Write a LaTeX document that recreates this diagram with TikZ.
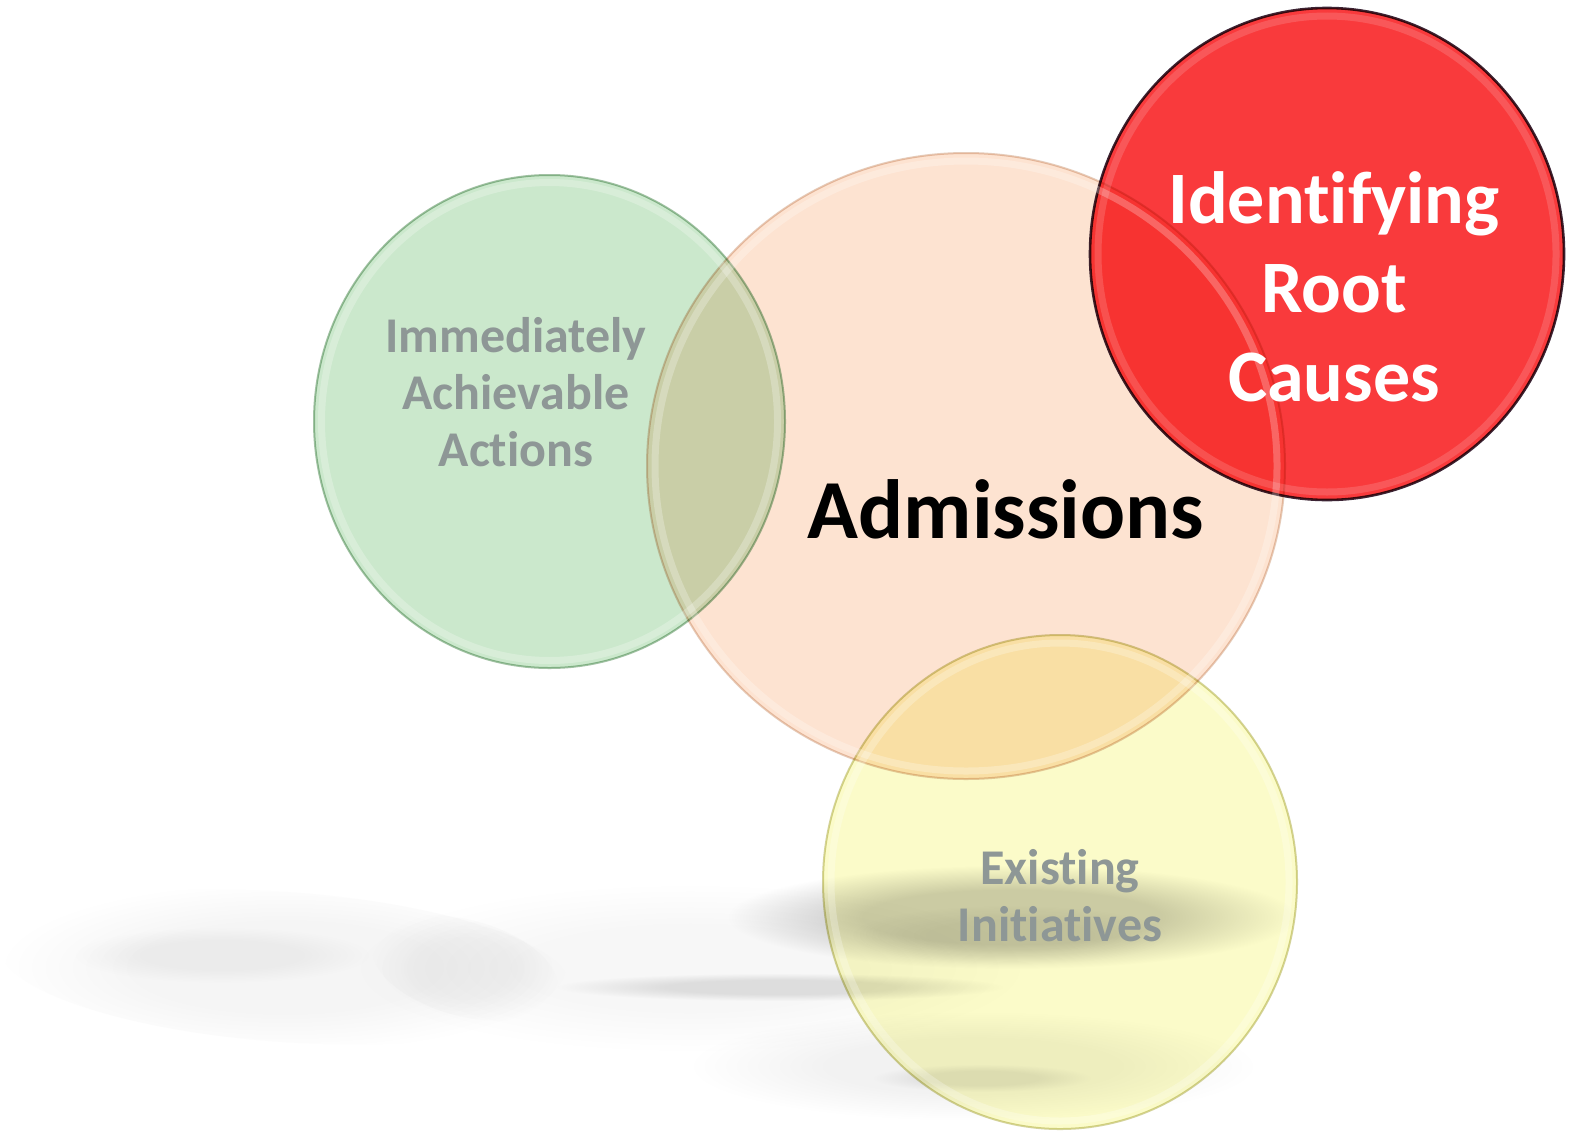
\documentclass[tikz,border=0pt]{standalone}
\usepackage{fontspec}
\setmainfont{Carlito}[RawFeature={-liga}]
\definecolor{greenf}{RGB}{203,232,204}
\definecolor{greend}{RGB}{162,194,164}
\definecolor{peachf}{RGB}{253,227,209}
\definecolor{peachd}{RGB}{230,204,186}
\definecolor{redf}{RGB}{249,58,60}
\definecolor{redd}{RGB}{60,36,52}
\definecolor{yellowf}{RGB}{251,251,201}
\definecolor{yellowd}{RGB}{212,211,156}
\definecolor{graytext}{RGB}{142,151,150}
\colorlet{blobc}{white}
\pgfdeclareradialshading[blobc]{softblob}{\pgfpointorigin}{color(0bp)=(blobc); color(13bp)=(blobc); color(25bp)=(white); color(50bp)=(white)}
\tikzset{
  blob/.style={shading=softblob, /utils/exec={\colorlet{blobc}{#1}}},
  disc/.style={line width=1pt},
  glow/.style={draw=white, line width=3.5pt, draw opacity=0.25},
  lbl/.style={inner sep=0pt, align=center, font=\bfseries},
}
\begin{document}
\begin{tikzpicture}[x=0.5pt, y=-0.5pt]
\fill[white] (0,0) rectangle (1577,1135);
\useasboundingbox (0,0) rectangle (1577,1135);
\begin{scope}[blend mode=multiply]
  % blurred reflection
  \shade[blob=black!4, rotate around={-4:(285,967)}] (285,967) ellipse [x radius=285, y radius=75];
  \shade[blob=black!3] (690,968) ellipse [x radius=340, y radius=85];
  \shade[blob=black!3, rotate around={-15:(465,968)}] (465,968) ellipse [x radius=95, y radius=48];
  \shade[blob=black!4] (222,955) ellipse [x radius=150, y radius=28];
  \shade[blob=black!10] (780,987) ellipse [x radius=225, y radius=14];
  \shade[blob=black!19] (1012,917) ellipse [x radius=285, y radius=52];
  \shade[blob=black!5] (1010,935) ellipse [x radius=160, y radius=30];
  \shade[blob=black!5] (973,1066) ellipse [x radius=285, y radius=55];
  \shade[blob=black!7] (982,1078) ellipse [x radius=110, y radius=14];
  % circles
  \filldraw[disc, fill=peachf, draw=peachd] (966,466) ellipse [x radius=319, y radius=313];
  \filldraw[disc, fill=greenf, draw=greend] (549.5,421.5) ellipse [x radius=235.5, y radius=246.5];
  \filldraw[disc, fill=yellowf, draw=yellowd] (1060,882) ellipse [x radius=237, y radius=247];
  \filldraw[disc, fill=redf, draw=redd, line width=1.3pt] (1327,254) ellipse [x radius=237, y radius=246];
\end{scope}
% inner glow rings
\draw[glow] (966,466) ellipse [x radius=311, y radius=305];
\draw[glow] (549.5,421.5) ellipse [x radius=228, y radius=239];
\draw[glow] (1060,882) ellipse [x radius=229, y radius=239];
\draw[glow, draw opacity=0.15] (1327,254) ellipse [x radius=229, y radius=238];
% labels
\node[lbl, text=graytext, font=\bfseries\fontsize{25pt}{28.5pt}\selectfont] (act) at (516,392) {Immediately\\Achievable\\Actions};
\node[inner sep=0pt, anchor=base, font=\bfseries\fontsize{42pt}{48pt}\selectfont] (adm) at (1006,538) {Admissions};
\node[lbl, text=white, font=\bfseries\fontsize{37pt}{44.5pt}\selectfont] (root) at (1334,287) {Identifying\\Root\\Causes};
\node[lbl, text=graytext, font=\bfseries\fontsize{25pt}{28.5pt}\selectfont] (ini) at (1060,896) {Existing\\Initiatives};
\end{tikzpicture}
\end{document}
